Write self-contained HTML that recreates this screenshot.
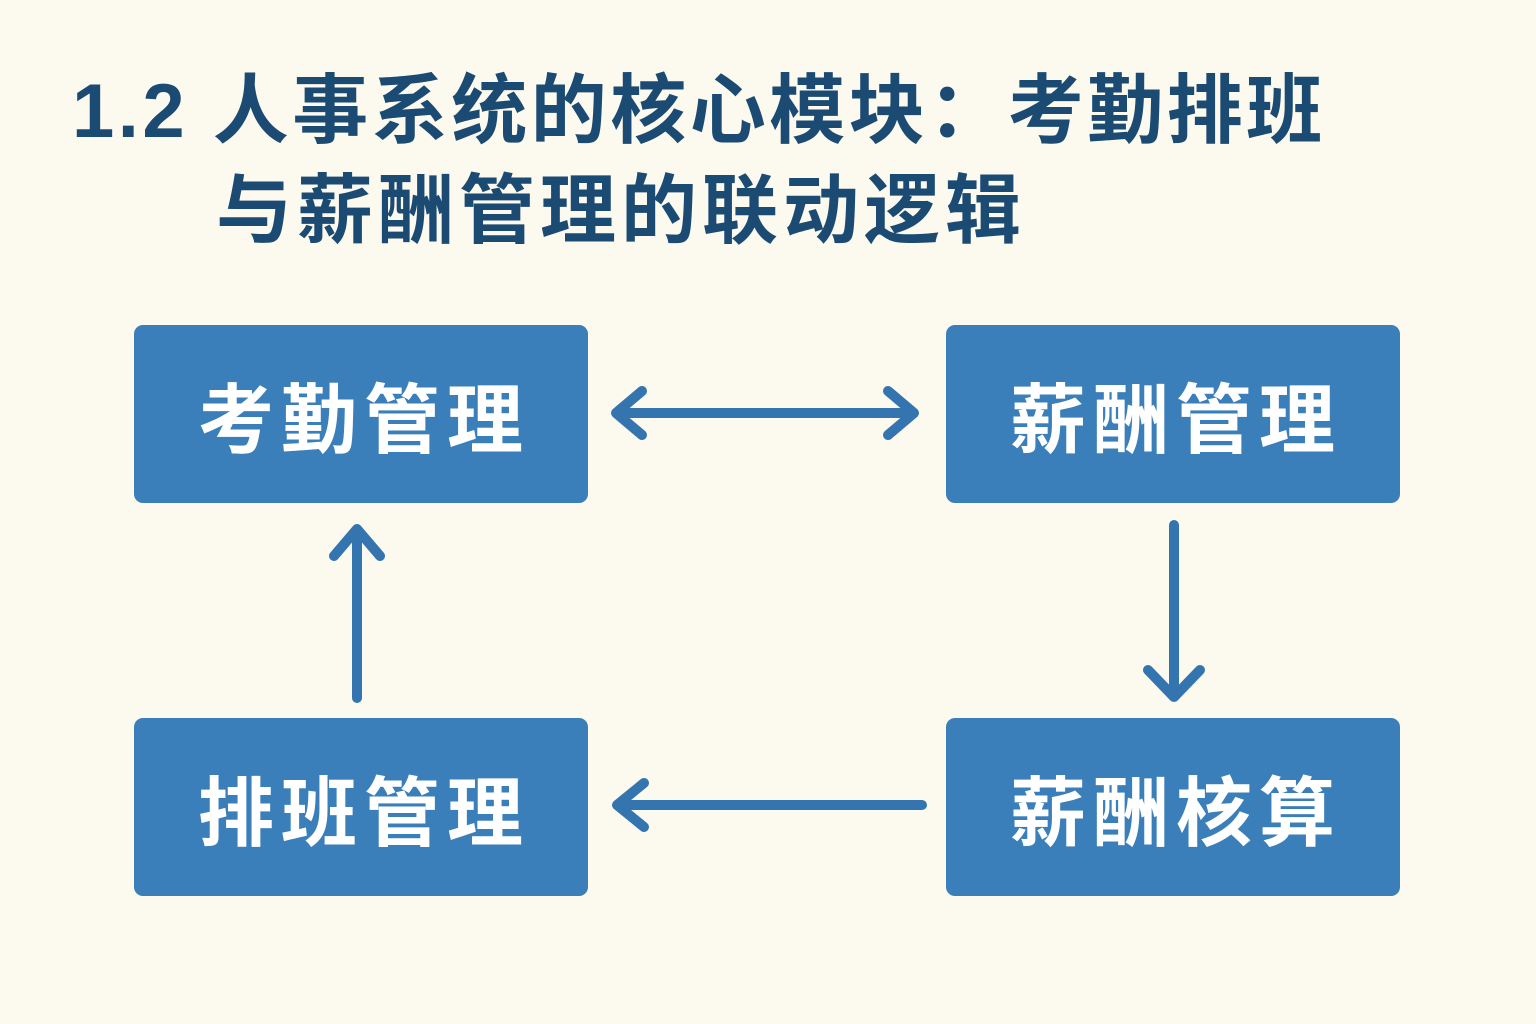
<!DOCTYPE html>
<html><head><meta charset="utf-8"><style>
html,body{margin:0;padding:0}
body{width:1536px;height:1024px;background:#fcf9ee;position:relative;overflow:hidden;font-family:"Liberation Sans","Noto Sans CJK SC",sans-serif}
.t{position:absolute;color:#1b4a72;font-weight:bold;font-size:76px;white-space:nowrap;line-height:1}
.b{position:absolute;width:454px;height:178px;background:#3a7fb9;border-radius:9px;color:#fff;font-size:76px;font-weight:bold;display:flex;align-items:center;justify-content:center;letter-spacing:7px}
.b span{position:relative;left:3px}
svg{position:absolute;left:0;top:0}
</style></head><body>
<div class="t" style="left:72px;top:74px;letter-spacing:3.5px">1.2 人事系统的核心模块：考勤排班</div>
<div class="t" style="left:216px;top:174px;letter-spacing:5px">与薪酬管理的联动逻辑</div>
<div class="b" style="left:134px;top:325px"><span>考勤管理</span></div>
<div class="b" style="left:946px;top:325px"><span>薪酬管理</span></div>
<div class="b" style="left:134px;top:718px"><span>排班管理</span></div>
<div class="b" style="left:946px;top:718px"><span>薪酬核算</span></div>
<svg width="1536" height="1024" fill="none" stroke="#3475b0" stroke-width="10" stroke-linecap="round" stroke-linejoin="round">
<line x1="618" y1="413" x2="912" y2="413"/>
<polyline points="642,391 616,413 642,435"/>
<polyline points="888,391 914,413 888,435"/>
<line x1="1174" y1="525" x2="1174" y2="695"/>
<polyline points="1148,670 1174,697 1200,670"/>
<line x1="922" y1="805" x2="620" y2="805"/>
<polyline points="644,783 617,805 644,827"/>
<line x1="357" y1="698" x2="357" y2="532"/>
<polyline points="334,556 357,529 380,556"/>
</svg>
</body></html>
